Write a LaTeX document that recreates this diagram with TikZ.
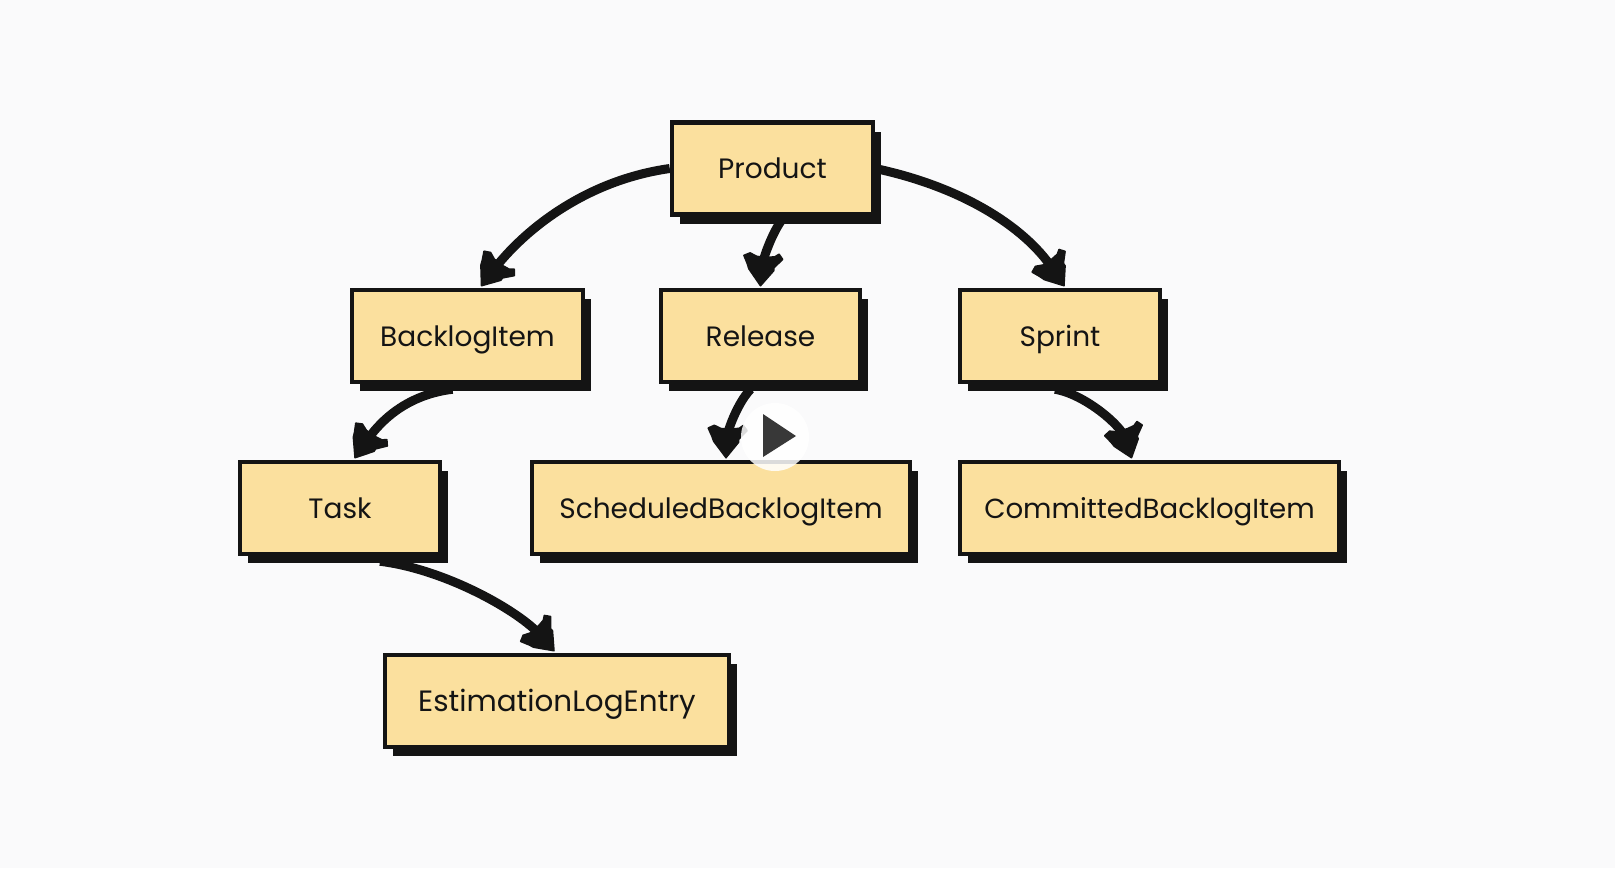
\documentclass[tikz,border=0pt]{standalone}
\usepackage{fontspec}
\setmainfont{Poppins}
\usetikzlibrary{arrows.meta,shadows,calc}
\definecolor{pagebg}{HTML}{FAFAFB}
\definecolor{boxfill}{HTML}{FBE09E}
\definecolor{inkc}{HTML}{141414}
\pgfdeclarearrow{
  name=RoughTip,
  setup code={
    \pgfarrowssettipend{0pt}
    \pgfarrowssetlineend{-20pt}
    \pgfarrowssetbackend{-33pt}
    \pgfarrowssetvisualbackend{-20pt}
  },
  drawing code={
    \pgfpathmoveto{\pgfqpoint{0pt}{0pt}}
    \pgfpathlineto{\pgfqpoint{-16pt}{12pt}}
    \pgfpathlineto{\pgfqpoint{-19pt}{12pt}}
    \pgfpathlineto{\pgfqpoint{-28pt}{20pt}}
    \pgfpathlineto{\pgfqpoint{-33pt}{16pt}}
    \pgfpathlineto{\pgfqpoint{-30pt}{12pt}}
    \pgfpathlineto{\pgfqpoint{-29pt}{5pt}}
    \pgfpathlineto{\pgfqpoint{-29pt}{-6pt}}
    \pgfpathlineto{\pgfqpoint{-32pt}{-13pt}}
    \pgfpathlineto{\pgfqpoint{-29pt}{-19pt}}
    \pgfpathlineto{\pgfqpoint{-21pt}{-15pt}}
    \pgfpathlineto{\pgfqpoint{-16pt}{-13pt}}
    \pgfpathclose
    \pgfsetlinewidth{1.5pt}
    \pgfsetroundjoin
    \pgfusepathqfillstroke
  },
}
\tikzset{
  entity/.style={draw=inkc,fill=boxfill,line width=4.5pt,inner sep=0pt,minimum height=92pt,text=inkc,
    text height=24pt,text depth=4pt,
    font=\fontsize{28}{30}\selectfont,
    general shadow={shadow xshift=8pt,shadow yshift=-9pt,fill=inkc}},
  link/.style={draw=inkc,line width=9pt,-{RoughTip}}
}
\begin{document}
\begin{tikzpicture}[x=1pt,y=-1pt]
\useasboundingbox (0,0) rectangle (1615,868);
\fill[pagebg] (0,0) rectangle (1615,868);
\node[entity,minimum width=201pt] (product) at (772.5,168.5) {Product};
\node[entity,minimum width=231pt] (backlog) at (467.5,336) {BacklogItem};
\node[entity,minimum width=199pt] (release) at (760.5,336) {Release};
\node[entity,minimum width=200pt] (sprint) at (1060,336) {Sprint};
\node[entity,minimum width=200pt] (task) at (340,508) {Task};
\node[entity,minimum width=378pt] (scheduled) at (721,508) {ScheduledBacklogItem};
\node[entity,minimum width=379pt,font=\fontsize{27.6}{30}\selectfont] (committed) at (1149.5,508) {CommittedBacklogItem};
\node[entity,minimum width=344pt,font=\fontsize{29.4}{30}\selectfont] (estimation) at (557,701) {EstimationLogEntry};
\draw[link] (product.west) .. controls +(-85,12) and +(42,-55) .. ($(backlog.north)+(14,-2)$);
\draw[link] ($(product.south)+(8,5)$) .. controls +(-10,15) and +(2,-25) .. ($(release.north)+(0,-2)$);
\draw[link] (product.east) .. controls +(85,18) and +(-40,-60) .. ($(sprint.north)+(4,-2)$);
\draw[link] ($(backlog.south)+(-15,5)$) .. controls +(-50,6) and +(22,-32) .. ($(task.north)+(15,-2)$);
\draw[link] ($(release.south)+(-10,5)$) .. controls +(-14,15) and +(1,-25) .. ($(scheduled.north)+(5,-2)$);
\draw[link] ($(sprint.south)+(-5,5)$) .. controls +(30,5) and +(-10,-32) .. ($(committed.north)+(-18,-2)$);
\draw[link] ($(task.south)+(40,5)$) .. controls +(65,8) and +(-35,-40) .. ($(estimation.north)+(-3,-2)$);
\fill[white,opacity=.85] (775,437) circle (34);
\fill[black!78] (763,414) -- (796,436) -- (763,457) -- cycle;
\end{tikzpicture}
\end{document}
